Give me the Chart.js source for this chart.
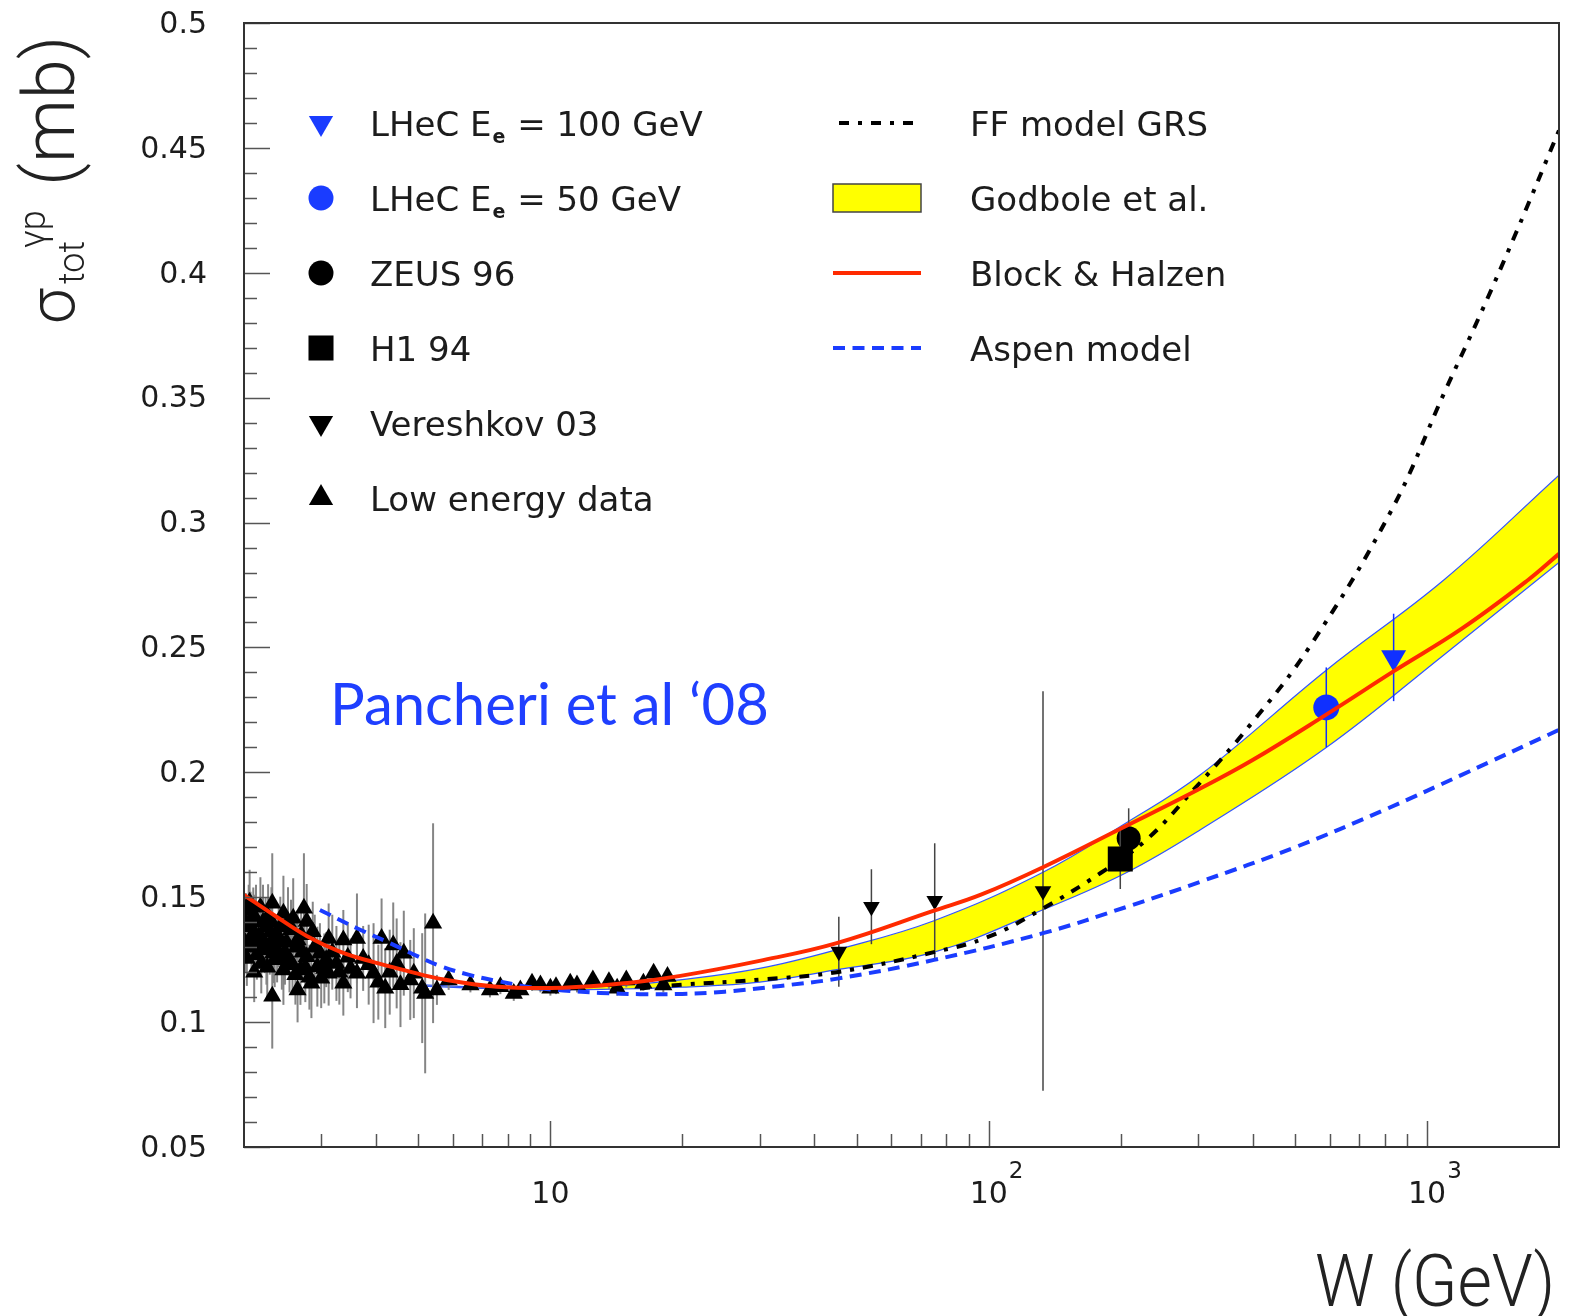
<!DOCTYPE html>
<html>
<head>
<meta charset="utf-8">
<script src="https://cdn.jsdelivr.net/npm/chart.js@4/dist/chart.umd.min.js"></script>
<style>
  html, body { margin: 0; padding: 0; background: #fff; }
  canvas { display: block; }
</style>
</head>
<body>
<canvas id="sigma" width="1580" height="1316"></canvas>
<script>
// total photoproduction cross section vs W, data points and models

// low energy data
const lowW = [2.02, 2.05, 2.07, 2.08, 2.10, 2.12, 2.14, 2.16, 2.19, 2.21, 2.23, 2.25, 2.27, 2.30, 2.32, 2.32,
  2.33, 2.36, 2.38, 2.42, 2.44, 2.46, 2.46, 2.50, 2.54, 2.56, 2.59, 2.62, 2.65, 2.65, 2.69, 2.72, 2.74,
  2.78, 2.78, 2.82, 2.85, 2.87, 2.94, 2.98, 3.00, 3.08, 3.12, 3.12, 3.25, 3.37, 3.37, 3.50, 3.62, 3.62,
  3.74, 3.95, 4.12, 4.20, 4.38, 4.46, 4.63, 4.79, 4.88, 5.10, 5.18, 5.40, 5.51, 5.86, 6.57, 7.28, 7.69,
  8.25, 8.54, 9.08, 9.49, 10.0, 10.3, 11.1, 11.5, 12.5, 13.6, 14.2, 14.9, 16.3, 17.2, 18.1, 18.5,
  2.01, 2.03, 2.06, 2.09, 2.11, 2.13, 2.15, 2.18, 2.20, 2.24, 2.26, 2.29, 2.31, 2.35, 2.40, 2.48, 2.52,
  2.58, 2.63, 2.70, 2.76, 2.90, 3.05, 3.18, 3.30, 3.45, 3.85, 4.05, 4.30, 4.55];
const lowSig = [0.1396, 0.1450, 0.1382, 0.1302, 0.1429, 0.1350, 0.1270, 0.1342, 0.1235, 0.1400, 0.1316,
  0.1290, 0.1422, 0.1360, 0.1476, 0.1104, 0.1276, 0.1330, 0.1289, 0.1382, 0.1250, 0.1436, 0.1209, 0.1320,
  0.1249, 0.1370, 0.1416, 0.1190, 0.1329, 0.1129, 0.1209, 0.1280, 0.1456, 0.1403, 0.1262, 0.1180, 0.1156,
  0.1362, 0.1222, 0.1276, 0.1176, 0.1250, 0.1335, 0.1196, 0.1235, 0.1329, 0.1156, 0.1215, 0.1335, 0.1196,
  0.1255, 0.1196, 0.1335, 0.1136, 0.1309, 0.1235, 0.1276, 0.1169, 0.1196, 0.1136, 0.1115, 0.1396, 0.1129,
  0.1169, 0.1149, 0.1129, 0.1142, 0.1115, 0.1129, 0.1156, 0.1149, 0.1136, 0.1142, 0.1156, 0.1149, 0.1169,
  0.1162, 0.1136, 0.1169, 0.1156, 0.1196, 0.1149, 0.1183,
  0.1320, 0.1255, 0.1480, 0.1350, 0.1200, 0.1410, 0.1300, 0.1460, 0.1330, 0.1380, 0.1220, 0.1310, 0.1400,
  0.1250, 0.1340, 0.1280, 0.1400, 0.1230, 0.1300, 0.1350, 0.1220, 0.1300, 0.1215, 0.1280, 0.1200, 0.1260,
  0.1230, 0.1160, 0.1200, 0.1150];
const lowErr = [0.012, 0.010, 0.014, 0.012, 0.011, 0.016, 0.010, 0.013, 0.012, 0.015, 0.012, 0.014, 0.013,
  0.011, 0.020, 0.021, 0.012, 0.010, 0.013, 0.012, 0.012, 0.015, 0.014, 0.011, 0.013, 0.012, 0.016, 0.012,
  0.012, 0.013, 0.014, 0.012, 0.022, 0.015, 0.012, 0.013, 0.014, 0.012, 0.016, 0.012, 0.012, 0.011, 0.014,
  0.013, 0.015, 0.012, 0.013, 0.012, 0.018, 0.014, 0.013, 0.020, 0.016, 0.016, 0.017, 0.018, 0.017, 0.016,
  0.018, 0.022, 0.032, 0.040, 0.006, 0.004, 0.003, 0.003, 0.003, 0.003, 0.003, 0.003, 0.003, 0.003, 0.003,
  0.003, 0.003, 0.003, 0.003, 0.003, 0.003, 0.003, 0.003, 0.003, 0.003,
  0.012, 0.011, 0.013, 0.010, 0.012, 0.014, 0.011, 0.012, 0.013, 0.012, 0.013, 0.012, 0.014, 0.011, 0.012,
  0.013, 0.014, 0.012, 0.013, 0.012, 0.014, 0.013, 0.014, 0.015, 0.013, 0.014, 0.016, 0.015, 0.017, 0.017];

// Vereshkov 03
const verW = [45.5, 54, 75.3, 133];
const verSig = [0.1282, 0.1462, 0.1486, 0.1525];
const verErr = [0.014, 0.015, 0.023, 0.080];

// HERA
const zeusW = [208.6];
const zeusSig = [0.1736];
const zeusErr = [0.012];
const h1W = [199.6];
const h1Sig = [0.1653];
const h1Err = [0.012];

// LHeC projections
const lhec50W = [589];
const lhec50Sig = [0.226];
const lhec50Err = [0.016];
const lhec100W = [839];
const lhec100Sig = [0.246];
const lhec100Err = [0.0175];

// Block & Halzen
const bhW = [2, 2.34, 2.78, 3.31, 3.95, 4.71, 5.61, 7.55, 10.7, 15.2, 19.8, 30, 45, 75, 96, 133, 204, 300,
  400, 590, 840, 1200, 1700, 2000];
const bhSig = [0.1509, 0.1429, 0.1345, 0.1282, 0.1240, 0.1205, 0.1173, 0.1142, 0.1138, 0.1158, 0.1185,
  0.1245, 0.1316, 0.1446, 0.1510, 0.1620, 0.1782, 0.1930, 0.2049, 0.2232, 0.2405, 0.2575, 0.2770, 0.2875];

// Aspen model
const aspenW = [2.98, 3.62, 4.31, 5.0, 5.6, 6.5, 7.55, 9, 10.7, 13, 16, 20, 25, 33.5, 45.5, 75, 133, 207,
  304, 500, 800, 1200, 2000];
const aspenSig = [0.1449, 0.1376, 0.1316, 0.1262, 0.1225, 0.1190, 0.1165, 0.1140, 0.1127, 0.1117, 0.1112,
  0.1113, 0.1122, 0.1145, 0.1175, 0.1249, 0.1356, 0.1462, 0.1562, 0.1700, 0.1850, 0.1990, 0.2170];

// FF model GRS
const ffW = [16, 20, 30, 45, 75, 100, 133, 180, 229, 293, 395, 543, 830, 1095, 1328, 1596, 2000];
const ffSig = [0.1135, 0.1150, 0.1170, 0.1200, 0.1280, 0.1342, 0.1455, 0.1597, 0.1730, 0.1929, 0.2190,
  0.2510, 0.3050, 0.3520, 0.3840, 0.4160, 0.4570];

// Godbole et al. band
const bandW = [5, 7, 10, 14, 20, 30, 45, 75, 133, 207, 304, 590, 1092, 2000];
const bandHi = [0.1150, 0.1140, 0.1137, 0.1145, 0.1170, 0.1215, 0.1290, 0.1406, 0.1600, 0.1800, 0.1990,
  0.2410, 0.2770, 0.3190];
const bandLo = [0.1145, 0.1135, 0.1130, 0.1132, 0.1140, 0.1160, 0.1210, 0.1280, 0.1450, 0.1600, 0.1770,
  0.2100, 0.2470, 0.2840];

// axis labels
const yMajor = [0.05, 0.1, 0.15, 0.2, 0.25, 0.3, 0.35, 0.4, 0.45, 0.5];
const yMajorText = ['0.05', '0.1', '0.15', '0.2', '0.25', '0.3', '0.35', '0.4', '0.45', '0.5'];
const xMajor = [10, 100, 1000];
const xMajorExp = ['', '2', '3'];

const RED = '#ff2a00';
const BLUE = '#1a3cff';
const TEXT = '#1c1c1c';

const pts = (xs, ys) => xs.map((x, i) => ({ x: x, y: ys[i] }));

const markerSet = (label, xs, ys, errs, style) => Object.assign({
  label: label,
  data: pts(xs, ys),
  showLine: false,
  borderWidth: 0,
  errs: errs,
  order: 5
}, style);

const curveSet = (label, xs, ys, style) => Object.assign({
  label: label,
  data: pts(xs, ys),
  showLine: true,
  pointRadius: 0,
  fill: false,
  tension: 0.4
}, style);

// vertical error bars, drawn just before each marker set
const errorBars = {
  id: 'errorBars',
  beforeDatasetDraw(chart, args) {
    const ds = chart.data.datasets[args.index];
    if (!ds.errs) return;
    const { ctx, chartArea: a, scales: { x, y } } = chart;
    ctx.save();
    ctx.beginPath();
    ctx.rect(a.left, a.top, a.right - a.left, a.bottom - a.top);
    ctx.clip();
    ctx.strokeStyle = ds.errColor;
    ctx.lineWidth = ds.errWidth;
    ds.data.forEach((p, i) => {
      const px = x.getPixelForValue(p.x);
      ctx.beginPath();
      ctx.moveTo(px, y.getPixelForValue(p.y - ds.errs[i]));
      ctx.lineTo(px, y.getPixelForValue(p.y + ds.errs[i]));
      ctx.stroke();
    });
    ctx.restore();
  }
};

function drawMarker(ctx, style, r, rot, color, x, y) {
  ctx.fillStyle = color;
  Chart.helpers.drawPoint(ctx, { pointStyle: style, radius: r, rotation: rot, borderWidth: 0 }, x, y);
}

// frame, inward ticks, axis labels, legend, titles
const decor = {
  id: 'decor',
  afterDraw(chart) {
    const { ctx, chartArea: a, scales: { x, y } } = chart;
    ctx.save();

    ctx.strokeStyle = '#555';
    ctx.lineWidth = 1.5;
    for (let k = 5; k <= 50; k++) {
      const py = Math.round(y.getPixelForValue(k / 100)) + 0.5;
      const len = k % 5 === 0 ? 26 : 13;
      ctx.beginPath();
      ctx.moveTo(a.left, py);
      ctx.lineTo(a.left + len, py);
      ctx.stroke();
    }
    for (const d of [1, 10, 100, 1000]) {
      for (let m = 1; m <= 9; m++) {
        const v = m * d;
        if (v <= 2 || v >= 2000) continue;
        const px = Math.round(x.getPixelForValue(v)) + 0.5;
        const len = m === 1 ? 26 : 13;
        ctx.beginPath();
        ctx.moveTo(px, a.bottom);
        ctx.lineTo(px, a.bottom - len);
        ctx.stroke();
      }
    }
    ctx.strokeStyle = '#333';
    ctx.lineWidth = 2;
    ctx.strokeRect(a.left, a.top, a.right - a.left, a.bottom - a.top);

    // y tick labels
    ctx.fillStyle = TEXT;
    ctx.font = '30px "DejaVu Sans"';
    ctx.textAlign = 'right';
    ctx.textBaseline = 'middle';
    yMajor.forEach((v, i) => {
      ctx.fillText(yMajorText[i], 207, y.getPixelForValue(v) + 2);
    });

    // x tick labels
    ctx.textBaseline = 'alphabetic';
    xMajor.forEach((v, i) => {
      const px = x.getPixelForValue(v);
      ctx.font = '30px "DejaVu Sans"';
      ctx.textAlign = 'center';
      ctx.fillText('10', px, 1203);
      if (xMajorExp[i]) {
        const w = ctx.measureText('10').width;
        ctx.font = '23px "DejaVu Sans"';
        ctx.textAlign = 'left';
        ctx.fillText(xMajorExp[i], px + w / 2 + 1, 1178);
      }
    });

    // x title
    ctx.save();
    ctx.translate(1315, 1306);
    ctx.scale(0.91, 1);
    ctx.font = '300 73px Roboto';
    ctx.textAlign = 'left';
    ctx.fillStyle = '#222';
    ctx.fillText('W (GeV)', 0, 0);
    ctx.restore();

    // y title, rotated
    ctx.save();
    ctx.translate(74, 324);
    ctx.rotate(-Math.PI / 2);
    ctx.textAlign = 'left';
    ctx.fillStyle = '#222';
    ctx.font = '300 64px Roboto';
    ctx.fillText('σ', 0, 0);
    ctx.font = '300 36px Roboto';
    ctx.fillText('tot', 40, 10);
    ctx.fillText('γp', 76, -29);
    ctx.font = '300 72px Roboto';
    ctx.fillText('(mb)', 138, 0);
    ctx.restore();

    // legend, left column
    const rows = [123, 198, 273, 348, 423, 498];
    const mx = 321, tx = 370;
    drawMarker(ctx, 'triangle', 14, 180, BLUE, mx, rows[0]);
    drawMarker(ctx, 'circle', 12.5, 0, BLUE, mx, rows[1]);
    drawMarker(ctx, 'circle', 12.5, 0, '#000', mx, rows[2]);
    drawMarker(ctx, 'rect', 17.7, 0, '#000', mx, rows[3]);
    drawMarker(ctx, 'triangle', 14, 180, '#000', mx, rows[4]);
    drawMarker(ctx, 'triangle', 14, 0, '#000', mx, rows[5]);

    ctx.fillStyle = TEXT;
    ctx.textAlign = 'left';
    const lhec = (ry, rest) => {
      ctx.font = '34px "DejaVu Sans"';
      ctx.fillText('LHeC E', tx, ry + 13);
      const w = ctx.measureText('LHeC E').width;
      ctx.font = 'bold 19px "DejaVu Sans"';
      ctx.fillText('e', tx + w + 1, ry + 20);
      const we = ctx.measureText('e').width;
      ctx.font = '34px "DejaVu Sans"';
      ctx.fillText(rest, tx + w + we + 2, ry + 13);
    };
    lhec(rows[0], ' = 100 GeV');
    lhec(rows[1], ' = 50 GeV');
    ctx.font = '34px "DejaVu Sans"';
    ctx.fillText('ZEUS 96', tx, rows[2] + 13);
    ctx.fillText('H1 94', tx, rows[3] + 13);
    ctx.fillText('Vereshkov 03', tx, rows[4] + 13);
    ctx.fillText('Low energy data', tx, rows[5] + 13);

    // legend, right column
    const lx0 = 833, lx1 = 921, rtx = 970;
    ctx.lineWidth = 4;
    ctx.strokeStyle = '#000';
    ctx.setLineDash([10, 9, 4, 9]);
    ctx.beginPath(); ctx.moveTo(lx0 + 6, rows[0]); ctx.lineTo(lx1, rows[0]); ctx.stroke();
    ctx.setLineDash([]);
    ctx.fillStyle = '#ffff00';
    ctx.fillRect(lx0, rows[1] - 14, lx1 - lx0, 28);
    ctx.lineWidth = 1.5;
    ctx.strokeStyle = '#444';
    ctx.strokeRect(lx0, rows[1] - 14, lx1 - lx0, 28);
    ctx.lineWidth = 4;
    ctx.strokeStyle = RED;
    ctx.beginPath(); ctx.moveTo(lx0, rows[2]); ctx.lineTo(lx1, rows[2]); ctx.stroke();
    ctx.strokeStyle = BLUE;
    ctx.setLineDash([12, 7.5]);
    ctx.beginPath(); ctx.moveTo(lx0, rows[3]); ctx.lineTo(lx1, rows[3]); ctx.stroke();
    ctx.setLineDash([]);

    ctx.fillStyle = TEXT;
    ctx.font = '34px "DejaVu Sans"';
    ctx.fillText('FF model GRS', rtx, rows[0] + 13);
    ctx.fillText('Godbole et al.', rtx, rows[1] + 13);
    ctx.fillText('Block & Halzen', rtx, rows[2] + 13);
    ctx.fillText('Aspen model', rtx, rows[3] + 13);

    // annotation
    ctx.fillStyle = '#1f3fff';
    ctx.font = '58px Lato';
    ctx.fillText('Pancheri et al \u201808', 330, 725);

    ctx.restore();
  }
};

new Chart(document.getElementById('sigma'), {
  type: 'scatter',
  data: {
    datasets: [
      curveSet('Godbole et al.', bandW, bandHi, {
        borderColor: '#3355ff', borderWidth: 1.2, backgroundColor: '#ffff00', fill: '+1', order: 11
      }),
      curveSet('Godbole et al. low', bandW, bandLo, {
        borderColor: '#3355ff', borderWidth: 1.2, order: 10
      }),
      markerSet('Low energy data', lowW, lowSig, lowErr, {
        pointStyle: 'triangle', pointRadius: 10.5, backgroundColor: '#000', errColor: '#858585', errWidth: 2
      }),
      markerSet('Vereshkov 03', verW, verSig, verErr, {
        pointStyle: 'triangle', pointRotation: 180, pointRadius: 9.6, backgroundColor: '#000',
        errColor: '#444', errWidth: 1.5
      }),
      markerSet('H1 94', h1W, h1Sig, h1Err, {
        pointStyle: 'rect', pointRadius: 17.7, backgroundColor: '#000', errColor: '#444', errWidth: 1.5
      }),
      markerSet('ZEUS 96', zeusW, zeusSig, zeusErr, {
        pointStyle: 'circle', pointRadius: 12, backgroundColor: '#000', errColor: '#444', errWidth: 1.5
      }),
      markerSet('LHeC Ee = 50 GeV', lhec50W, lhec50Sig, lhec50Err, {
        pointStyle: 'circle', pointRadius: 13, backgroundColor: '#1030ff', errColor: '#1030ff', errWidth: 1.5
      }),
      markerSet('LHeC Ee = 100 GeV', lhec100W, lhec100Sig, lhec100Err, {
        pointStyle: 'triangle', pointRotation: 180, pointRadius: 14.4, backgroundColor: '#1030ff',
        errColor: '#1030ff', errWidth: 1.5
      }),
      curveSet('Aspen model', aspenW, aspenSig, {
        borderColor: BLUE, borderWidth: 4, borderDash: [12, 7.5], order: 3
      }),
      curveSet('FF model GRS', ffW, ffSig, {
        borderColor: '#000', borderWidth: 4, borderDash: [10, 9, 4, 9], order: 2
      }),
      curveSet('Block & Halzen', bhW, bhSig, {
        borderColor: RED, borderWidth: 4, order: 1
      })
    ]
  },
  options: {
    responsive: false,
    animation: false,
    events: [],
    layout: { padding: { top: 23, right: 21, left: 0, bottom: 0 } },
    plugins: {
      legend: { display: false },
      tooltip: { enabled: false }
    },
    scales: {
      x: {
        type: 'logarithmic',
        min: 2,
        max: 2000,
        grid: { display: false, drawTicks: false },
        border: { display: false },
        ticks: { display: false },
        afterFit: s => { s.height = 169; }
      },
      y: {
        type: 'linear',
        min: 0.05,
        max: 0.5,
        grid: { display: false, drawTicks: false },
        border: { display: false },
        ticks: { display: false },
        afterFit: s => { s.width = 244; }
      }
    }
  },
  plugins: [errorBars, decor]
});
</script>
</body>
</html>
